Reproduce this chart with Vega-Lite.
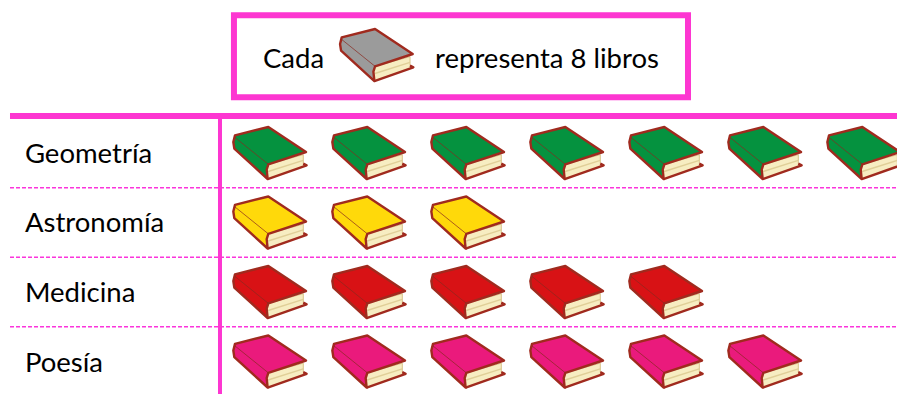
{"$schema":"https://vega.github.io/schema/vega-lite/v6.json","width":897,"height":394,"autosize":{"type":"fit","contains":"padding"},"padding":0,"background":"white","config":{"view":{"stroke":null}},
"datasets":{"libros":[
{"tema":"Geometría","fila":1,"libro":1},{"tema":"Geometría","fila":1,"libro":2},{"tema":"Geometría","fila":1,"libro":3},{"tema":"Geometría","fila":1,"libro":4},{"tema":"Geometría","fila":1,"libro":5},{"tema":"Geometría","fila":1,"libro":6},{"tema":"Geometría","fila":1,"libro":7},
{"tema":"Astronomía","fila":2,"libro":1},{"tema":"Astronomía","fila":2,"libro":2},{"tema":"Astronomía","fila":2,"libro":3},
{"tema":"Medicina","fila":3,"libro":1},{"tema":"Medicina","fila":3,"libro":2},{"tema":"Medicina","fila":3,"libro":3},{"tema":"Medicina","fila":3,"libro":4},{"tema":"Medicina","fila":3,"libro":5},
{"tema":"Poesía","fila":4,"libro":1},{"tema":"Poesía","fila":4,"libro":2},{"tema":"Poesía","fila":4,"libro":3},{"tema":"Poesía","fila":4,"libro":4},{"tema":"Poesía","fila":4,"libro":5},{"tema":"Poesía","fila":4,"libro":6},
{"tema":"Clave","fila":-0.41,"libro":2.078}],
"temas":[{"tema":"Geometría","fila":1},{"tema":"Astronomía","fila":2},{"tema":"Medicina","fila":3},{"tema":"Poesía","fila":4}],
"nota":[{"texto":"Cada","x":0.929},{"texto":"representa 8 libros","x":2.667}],
"separadores":[{"fila":1.5},{"fila":2.5},{"fila":3.5}]},
"encoding":{
"x":{"type":"quantitative","scale":{"domain":[-1.727,7.333],"range":[0,897],"nice":false,"zero":false},"axis":null},
"y":{"type":"quantitative","scale":{"domain":[-1.2014,4.4676],"range":[0,394],"nice":false,"zero":false},"axis":null}},
"layer":[
{"data":{"name":"separadores"},"mark":{"type":"rule","stroke":"#fb35dc","strokeWidth":1.5,"strokeDash":[4,2]},"encoding":{"y":{"field":"fila","type":"quantitative"},"x":{"datum":-1.626},"x2":{"datum":7.333}}},
{"data":{"values":[{"a":1}]},"mark":{"type":"rule","stroke":"#fd36d1","strokeWidth":6},"encoding":{"y":{"datum":0.4676},"x":{"datum":-1.626},"x2":{"datum":7.333}}},
{"data":{"values":[{"a":1}]},"mark":{"type":"rule","stroke":"#fd36d1","strokeWidth":4},"encoding":{"x":{"datum":0.495},"y":{"datum":0.4676},"y2":{"datum":4.4676}}},
{"data":{"values":[{"a":1}]},"mark":{"type":"rect","fill":null,"stroke":"#fd36d1","strokeWidth":6},"encoding":{"x":{"datum":0.636},"x2":{"datum":5.222},"y":{"datum":-0.981},"y2":{"datum":0.199}}},
{"data":{"name":"nota"},"mark":{"type":"text","align":"left","baseline":"middle","dy":2,"font":"Lato","fontSize":27.5,"fill":"#000000"},"encoding":{"x":{"field":"x","type":"quantitative"},"y":{"datum":-0.367},"text":{"field":"texto"}}},
{"data":{"name":"temas"},"mark":{"type":"text","align":"left","baseline":"middle","dy":2,"font":"Lato","fontSize":27.5,"fill":"#000000"},"encoding":{"x":{"datum":-1.475},"y":{"field":"fila","type":"quantitative"},"text":{"field":"tema"}}},
{"data":{"name":"libros"},"mark":{"type":"point","filled":true,"opacity":1,"fill":"#f7edc2","stroke":"#d8c489","strokeWidth":1,"shape":"M-0.045,0.306L0.9,0.045L0.9,0.288L0.991,0.333L-0.063,0.703L-0.09,0.45Z","size":5476},"encoding":{"x":{"field":"libro","type":"quantitative"},"y":{"field":"fila","type":"quantitative"}}},
{"data":{"name":"libros"},"mark":{"type":"point","filled":false,"opacity":1,"stroke":"#e0cf98","strokeWidth":1.5,"shape":"M-0.05,0.5L0.9,0.2","size":5476},"encoding":{"x":{"field":"libro","type":"quantitative"},"y":{"field":"fila","type":"quantitative"}}},
{"data":{"name":"libros"},"mark":{"type":"point","filled":false,"opacity":1,"stroke":"#a02a1e","strokeWidth":2.4,"strokeJoin":"round","shape":"M0.9,0.288L0.991,0.333L-0.063,0.703","size":5476},"encoding":{"x":{"field":"libro","type":"quantitative"},"y":{"field":"fila","type":"quantitative"}}},
{"data":{"name":"libros"},"mark":{"type":"point","filled":true,"opacity":1,"stroke":"#a02a1e","strokeWidth":2.4,"strokeJoin":"round","shape":"M-0.946,-0.477L-0.045,-0.703L0.973,-0.027L-0.045,0.306L-0.09,0.45L-0.063,0.703L-0.964,-0.117L-0.991,-0.297Z","size":5476},"encoding":{"x":{"field":"libro","type":"quantitative"},"y":{"field":"fila","type":"quantitative"},"fill":{"field":"tema","type":"nominal","legend":null,"scale":{"domain":["Geometría","Astronomía","Medicina","Poesía","Clave"],"range":["#05923f","#ffd90a","#d81215","#ea1a7c","#9b9b9b"]}}}},
{"data":{"name":"libros"},"mark":{"type":"point","filled":false,"opacity":0.7,"stroke":"#8a2a20","strokeWidth":1,"shape":"M-0.946,-0.42L-0.045,0.306","size":5476},"encoding":{"x":{"field":"libro","type":"quantitative"},"y":{"field":"fila","type":"quantitative"}}}
]}
